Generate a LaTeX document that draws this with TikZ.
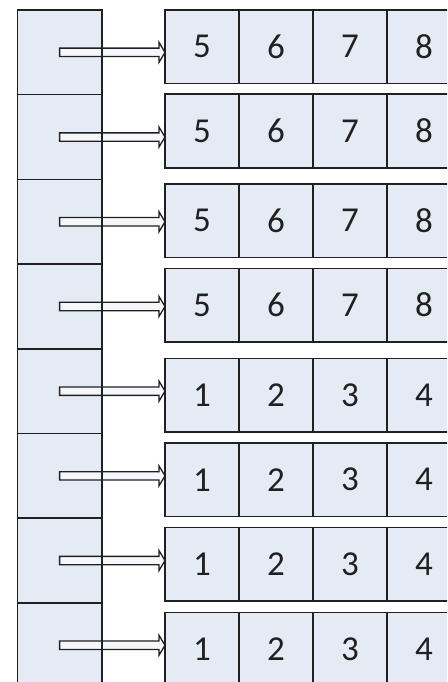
\documentclass[tikz,border=0pt]{standalone}
\usepackage{fontspec}
\setmainfont{Carlito}
\usetikzlibrary{calc}
\definecolor{cellfill}{HTML}{E5EBF5}
\definecolor{edge}{HTML}{202020}
\definecolor{shaft}{HTML}{F5F7FB}
\tikzset{
  leftcell/.style={draw=edge, fill=cellfill, line width=1.6pt, minimum width=84.2pt, minimum height=84.7pt, inner sep=0pt, outer sep=0pt, anchor=north west},
  rowcell/.style={draw=edge, fill=cellfill, line width=1.6pt, minimum width=74pt, minimum height=73.5pt, inner sep=0pt, outer sep=0pt, anchor=north west, text=edge, font=\fontsize{35}{35}\selectfont},
  blockarrow/.style={draw=edge, fill=shaft, line width=1.3pt, line join=miter},
  vline/.style={draw=edge, line width=1.6pt}
}
\begin{document}
\begin{tikzpicture}[x=1pt,y=-1pt]
\useasboundingbox (0,0) rectangle (447,682);
\clip (0,0) rectangle (447,682);
\fill[white] (0,0) rectangle (447,682);
% left column
\foreach \i in {1,...,8} {
  \node[leftcell] (L\i) at (17.5,{10+(\i-1)*84.7}) {};
}
% rows
\foreach \i/\t/\a/\b/\c/\d in {1/10/5/6/7/8, 2/94.3/5/6/7/8, 3/184/5/6/7/8, 4/268.3/5/6/7/8, 5/358.3/1/2/3/4, 6/443/1/2/3/4, 7/527.3/1/2/3/4, 8/612.3/1/2/3/4} {
  \node[rowcell] (R\i a) at (165,\t) {\a};
  \node[rowcell] (R\i b) at (R\i a.north east) {\b};
  \node[rowcell] (R\i c) at (R\i b.north east) {\c};
  \node[rowcell] (R\i d) at (R\i c.north east) {\d};
}
% arrows
\foreach \i in {1,...,8} {
  \coordinate (E\i) at (R\i a.west |- L\i.center);
  \draw[blockarrow] ($(L\i.center)+(0,-4.2)$) -- ($(E\i)+(-6,-4.2)$) -- ($(E\i)+(-6,-10)$) -- (E\i) -- ($(E\i)+(-6,10)$) -- ($(E\i)+(-6,4.2)$) -- ($(L\i.center)+(0,4.2)$) -- cycle;
  \draw[vline] (L\i.north east) -- (L\i.south east);
}
\end{tikzpicture}
\end{document}
